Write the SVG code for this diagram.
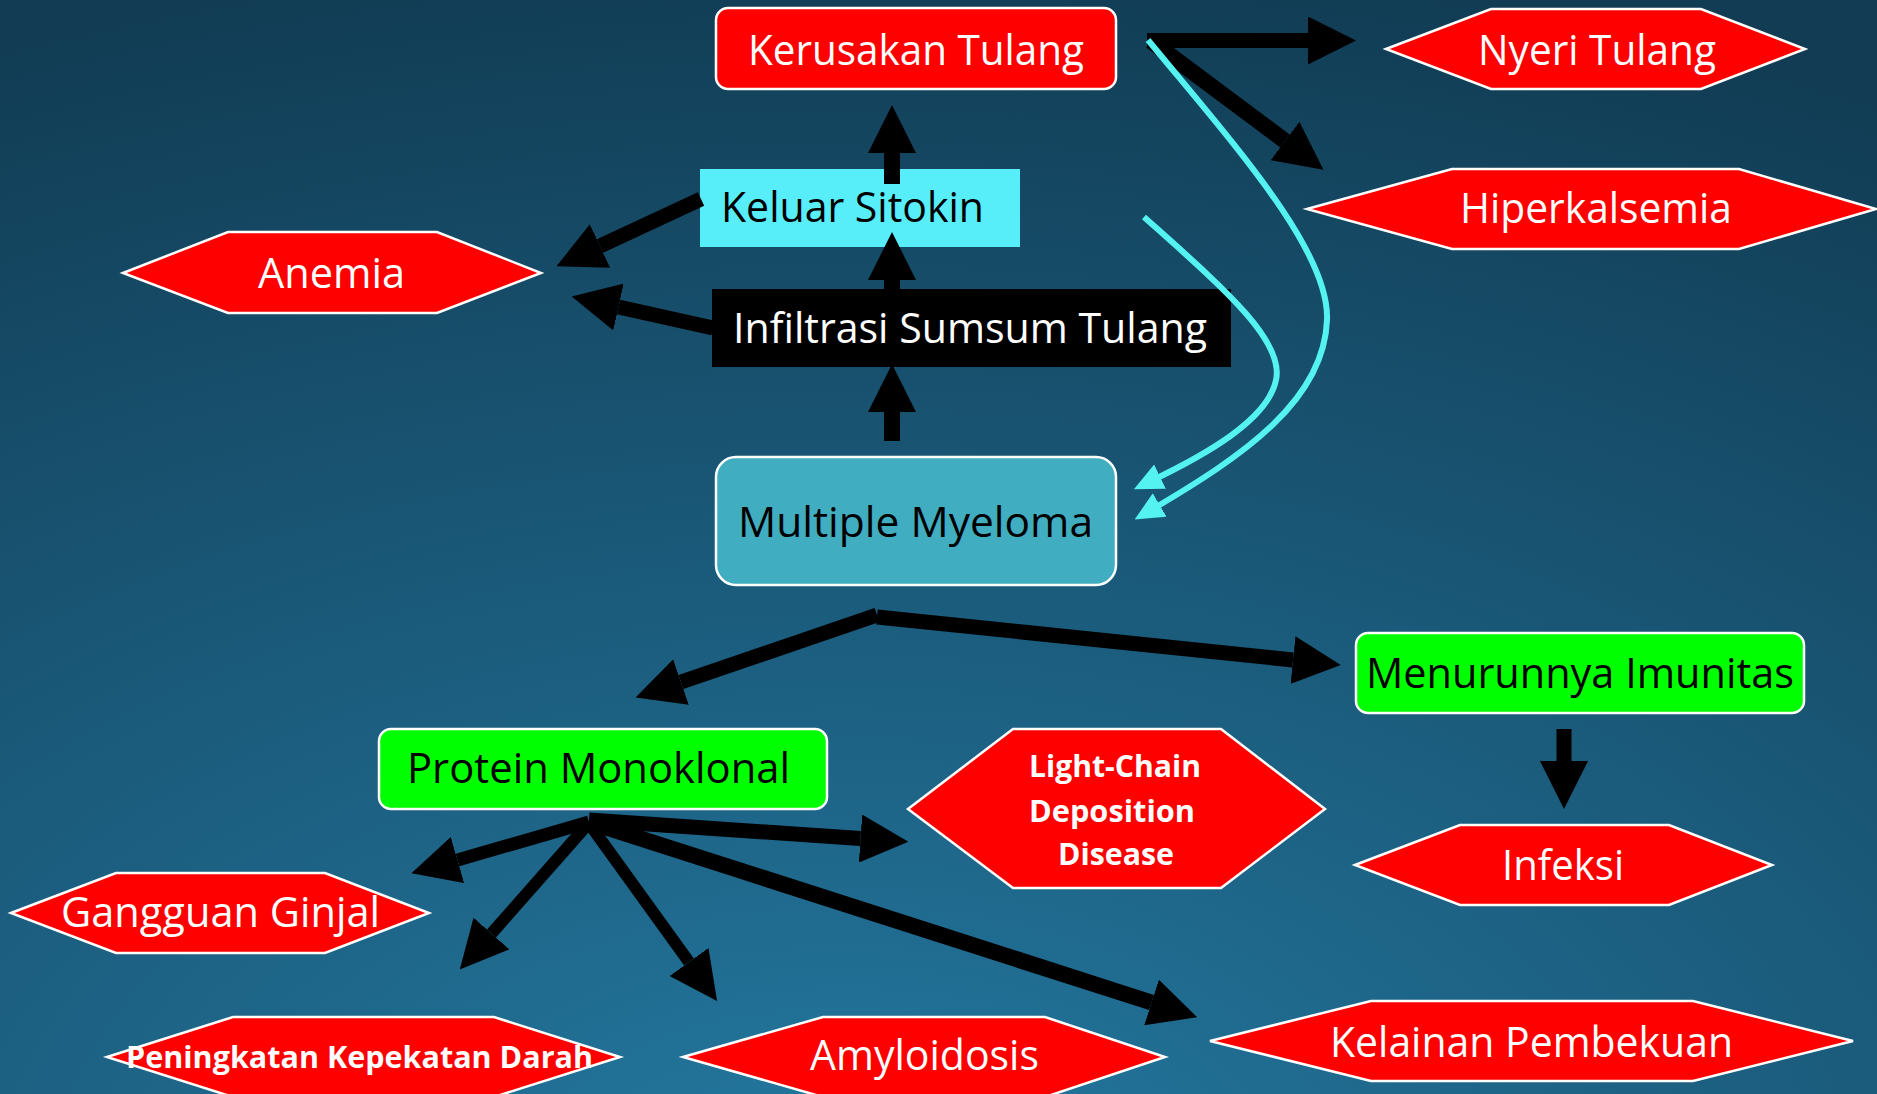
<svg xmlns="http://www.w3.org/2000/svg" width="1877" height="1094" viewBox="0 0 1877 1094">
<defs>
<radialGradient id="bg" cx="0.45" cy="1.1" r="1.15">
<stop offset="0" stop-color="#2479a1"/>
<stop offset="1" stop-color="#113c54"/>
</radialGradient>
<marker id="ah" markerUnits="userSpaceOnUse" markerWidth="48" markerHeight="48" viewBox="0 0 47 47" refX="0" refY="23.5" orient="auto">
<path d="M0,0 L47,23.5 L0,47 z" fill="#000"/>
</marker>
<marker id="ch" markerUnits="userSpaceOnUse" markerWidth="29" markerHeight="27" viewBox="0 0 29 27" refX="10" refY="13.5" orient="auto">
<path d="M0,0 L29,13.5 L0,27 z" fill="#55f2f2"/>
</marker>
</defs>
<style>
.hex{fill:#ff0000;stroke:#ffffff;stroke-width:2.5}
.rr{stroke:#ffffff;stroke-width:2.5}
.t{font-family:"Open Sans","Noto Sans","Liberation Sans",sans-serif;font-size:42px}
.tb{font-family:"Open Sans","Noto Sans","Liberation Sans",sans-serif;font-size:31px;font-weight:bold;fill:#fff}
.w{fill:#fff}
.k{fill:#000}
.ar{stroke:#000;fill:none;marker-end:url(#ah)}
.cy{stroke:#55f2f2;stroke-width:6;fill:none;marker-end:url(#ch)}
</style>
<rect x="0" y="0" width="1877" height="1094" fill="url(#bg)"/>

<g id="kerusakan-tulang">
<rect class="rr" x="716" y="8" width="400" height="81" rx="12" fill="#ff0000"/>
<text class="t w" x="748" y="65" textLength="336" lengthAdjust="spacingAndGlyphs">Kerusakan Tulang</text>
</g>
<g id="nyeri-tulang">
<polygon class="hex" points="1386,49 1491,9 1701,9 1805,49 1701,89 1491,89"/>
<text class="t w" x="1478" y="65" textLength="238" lengthAdjust="spacingAndGlyphs">Nyeri Tulang</text>
</g>
<g id="hiperkalsemia">
<polygon class="hex" points="1307,209 1452,169 1739,169 1876,209 1739,249 1452,249"/>
<text class="t w" x="1460" y="223" textLength="272" lengthAdjust="spacingAndGlyphs">Hiperkalsemia</text>
</g>
<g id="keluar-sitokin">
<rect x="700" y="169" width="320" height="78" fill="#57eef9"/>
<text class="t k" x="721" y="222" textLength="263" lengthAdjust="spacingAndGlyphs">Keluar Sitokin</text>
</g>
<g id="anemia">
<polygon class="hex" points="123,273 228,232 437,232 541,273 437,313 228,313"/>
<text class="t w" x="258" y="288" textLength="147" lengthAdjust="spacingAndGlyphs">Anemia</text>
</g>
<g id="infiltrasi">
<rect x="712" y="289" width="519" height="78" fill="#000"/>
<text class="t w" x="733" y="343" textLength="474" lengthAdjust="spacingAndGlyphs">Infiltrasi Sumsum Tulang</text>
</g>
<g id="multiple-myeloma">
<rect class="rr" x="716" y="457" width="400" height="128" rx="20" fill="#41adc0"/>
<text class="t k" x="738" y="537" textLength="355" lengthAdjust="spacingAndGlyphs">Multiple Myeloma</text>
</g>
<g id="menurunnya-imunitas">
<rect class="rr" x="1356" y="633" width="448" height="80" rx="12" fill="#00ff00"/>
<text class="t k" x="1366" y="688" textLength="428" lengthAdjust="spacingAndGlyphs">Menurunnya Imunitas</text>
</g>
<g id="protein-monoklonal">
<rect class="rr" x="379" y="729" width="448" height="80" rx="12" fill="#00ff00"/>
<text class="t k" x="407" y="783" textLength="383" lengthAdjust="spacingAndGlyphs">Protein Monoklonal</text>
</g>
<g id="light-chain">
<polygon class="hex" points="908,809 1013,729 1221,729 1325,809 1221,888 1013,888"/>
<text class="tb" x="1029" y="777" textLength="172" lengthAdjust="spacingAndGlyphs">Light-Chain</text>
<text class="tb" x="1029" y="822" textLength="166" lengthAdjust="spacingAndGlyphs">Deposition</text>
<text class="tb" x="1058" y="865" textLength="116" lengthAdjust="spacingAndGlyphs">Disease</text>
</g>
<g id="infeksi">
<polygon class="hex" points="1355,865 1460,825 1669,825 1772,865 1669,905 1460,905"/>
<text class="t w" x="1502" y="880" textLength="122" lengthAdjust="spacingAndGlyphs">Infeksi</text>
</g>
<g id="gangguan-ginjal">
<polygon class="hex" points="11,913 116,873 325,873 429,913 325,953 116,953"/>
<text class="t w" x="61" y="927" textLength="319" lengthAdjust="spacingAndGlyphs">Gangguan Ginjal</text>
</g>
<g id="peningkatan">
<polygon class="hex" points="107,1057 233,1017 494,1017 620,1057 494,1097 233,1097"/>
<text class="tb" x="126" y="1068" textLength="467" lengthAdjust="spacingAndGlyphs">Peningkatan Kepekatan Darah</text>
</g>
<g id="amyloidosis">
<polygon class="hex" points="683,1057 823,1017 1045,1017 1165,1057 1045,1097 823,1097"/>
<text class="t w" x="810" y="1070" textLength="229" lengthAdjust="spacingAndGlyphs">Amyloidosis</text>
</g>
<g id="kelainan-pembekuan">
<polygon class="hex" points="1210,1041 1371,1001 1693,1001 1853,1041 1693,1081 1371,1081"/>
<text class="t w" x="1330" y="1057" textLength="403" lengthAdjust="spacingAndGlyphs">Kelainan Pembekuan</text>
</g>

<g id="connectors">
<line class="ar" stroke-width="16" x1="892" y1="184" x2="892" y2="153"/>
<line class="ar" stroke-width="16" x1="892" y1="289" x2="892" y2="280"/>
<line class="ar" stroke-width="16" x1="892" y1="441" x2="892" y2="412"/>
<line class="ar" stroke-width="15" x1="1147" y1="40.5" x2="1308" y2="40.5"/>
<line class="ar" stroke-width="16" x1="1151" y1="41" x2="1285" y2="141"/>
<line class="ar" stroke-width="15" x1="701" y1="199" x2="600" y2="246"/>
<line class="ar" stroke-width="15" x1="713" y1="328" x2="618.5" y2="307"/>
<line class="ar" stroke-width="15" x1="877" y1="615" x2="681" y2="682"/>
<line class="ar" stroke-width="15" x1="877" y1="617" x2="1293" y2="660"/>
<line class="ar" stroke-width="15" x1="1564" y1="729" x2="1564" y2="761"/>
<line class="ar" stroke-width="13" x1="589" y1="822" x2="457.5" y2="860"/>
<line class="ar" stroke-width="12" x1="588" y1="824" x2="491.5" y2="933.5"/>
<line class="ar" stroke-width="12" x1="588" y1="822" x2="689" y2="962"/>
<line class="ar" stroke-width="16" x1="589" y1="822" x2="1151.5" y2="1002.5"/>
<line class="ar" stroke-width="15" x1="589" y1="820" x2="860.5" y2="838.5"/>
<path class="cy" d="M1148,40 C1230,140 1330,250 1327,320 C1324,400 1245,455 1151,510"/>
<path class="cy" d="M1144,217 C1220,285 1285,340 1276,380 C1268,420 1205,455 1151,481"/>
</g>
</svg>
